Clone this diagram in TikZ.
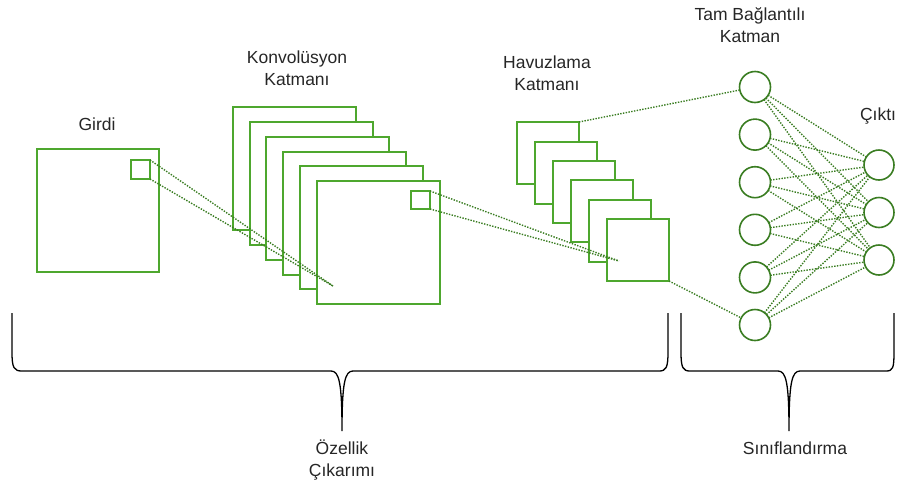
\documentclass[tikz,border=0pt]{standalone}
\usepackage{fontspec}
\setmainfont{Liberation Sans}
\definecolor{boxgreen}{RGB}{78,167,46}
\definecolor{dotgreen}{RGB}{58,125,34}
\begin{document}
\begin{tikzpicture}[x=1pt,y=-1pt,
  sqbox/.style={draw=boxgreen,line width=1.8pt,fill=white,inner sep=0pt,outer sep=0pt},
  neuron/.style={circle,draw=dotgreen,line width=1.6pt,fill=white,inner sep=0pt,outer sep=0pt,minimum size=31pt},
  dotline/.style={draw=dotgreen,line width=1.4pt,dash pattern=on 1.4pt off 1.4pt},
  brace/.style={draw=black,line width=1.3pt},
  lbl/.style={font=\fontsize{17.5}{22}\selectfont,align=center,inner sep=0pt,text=black!85}]
\useasboundingbox (0,0) rectangle (897,488);
% input
\node[sqbox,minimum width=122pt,minimum height=123pt] (in) at (98,210.5) {};
\node[sqbox,minimum width=19pt,minimum height=19pt] (insmall) at (140.5,169.5) {};
\node[lbl] (tin) at (97,124) {Girdi};
% conv
\foreach \x/\y [count=\i from 0] in {233/107,250/122,266/137,283/152,300/166,317/181}
  \node[sqbox,minimum width=123pt,minimum height=123pt] (conv\i) at (\x+61.5,\y+61.5) {};
\node[sqbox,minimum width=19pt,minimum height=18pt] (convsmall) at (420.5,200) {};
\node[lbl] (tconv) at (297,68) {Konvolüsyon\\Katmanı};
% pool
\foreach \x/\y [count=\i from 0] in {517/122,535/142,553/161,571/180,589/200,607/219}
  \node[sqbox,minimum width=62pt,minimum height=62pt] (pool\i) at (\x+31,\y+31) {};
\node[lbl] (tpool) at (547,73) {Havuzlama\\Katmanı};
% fc
\foreach \i in {1,...,6}
  \node[neuron] (fc\i) at (755,{87+47.6*(\i-1)}) {};
\foreach \j in {1,2,3}
  \node[neuron,minimum size=30pt] (out\j) at (879,{165+47.5*(\j-1)}) {};
\node[lbl] (tfc) at (750,25) {Tam Bağlantılı\\Katman};
\node[lbl] (tout) at (878,116) {Çıktı};
% connectors
\coordinate (p1) at (333,286);
\coordinate (p2) at (619,261);
\draw[dotline] (insmall.north east) -- (p1);
\draw[dotline] (insmall.south east) -- (p1);
\draw[dotline] (convsmall.north east) -- (p2);
\draw[dotline] (convsmall.south east) -- (p2);
\draw[dotline] (pool0.north east) -- (fc1);
\draw[dotline] (pool5.south east) -- (fc6);
\foreach \i in {1,...,6}
  \foreach \j in {1,2,3}
    \draw[dotline] (fc\i) -- (out\j);
% braces
\draw[brace] (12,313) -- (12,352) .. controls (12,368) and (14,371) .. (22,371) -- (331,371)
  .. controls (339,371) and (342,382) .. (342,431) .. controls (342,382) and (345,371) .. (353,371)
  -- (659,371) .. controls (666,371) and (668,368) .. (668,352) -- (668,313);
\draw[brace] (681,313) -- (681,352) .. controls (681,368) and (683,371) .. (690,371) -- (778,371)
  .. controls (786,371) and (789,382) .. (789,431) .. controls (789,382) and (792,371) .. (800,371)
  -- (886,371) .. controls (893,371) and (894,368) .. (894,352) -- (894,313);
\node[lbl] (tfeat) at (342,460) {Özellik\\Çıkarımı};
\node[lbl] (tcls) at (795,448) {Sınıflandırma};
\end{tikzpicture}
\end{document}
